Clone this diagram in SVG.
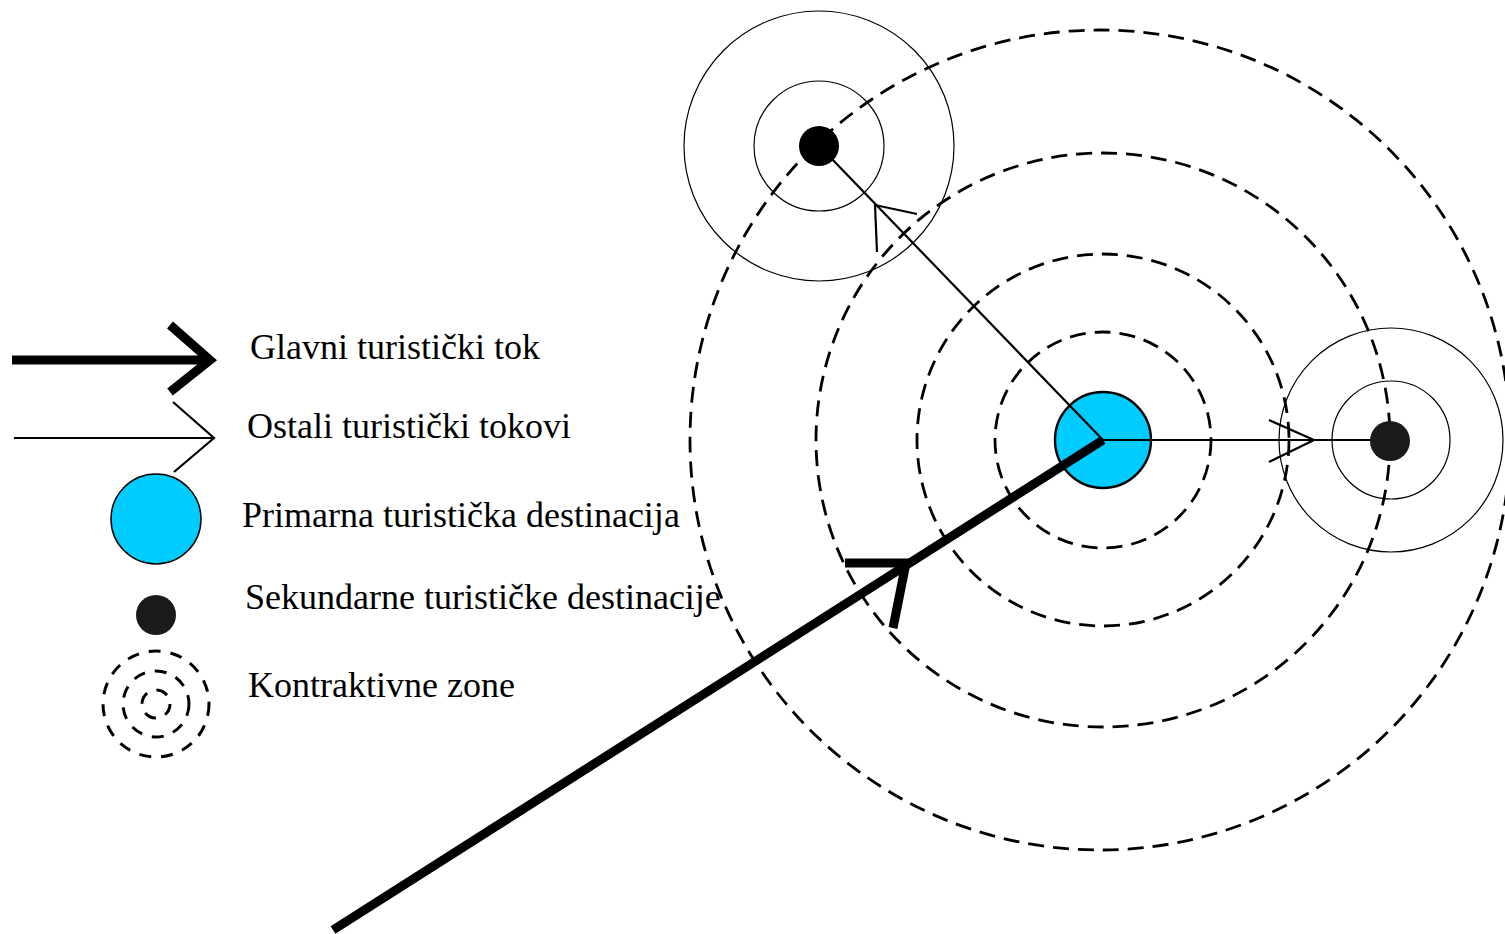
<svg xmlns="http://www.w3.org/2000/svg" width="1505" height="934" viewBox="0 0 1505 934">
<style>
.dash{fill:none;stroke:#000;stroke-width:2.8;stroke-dasharray:16 9}
.ldash{fill:none;stroke:#000;stroke-width:3;stroke-dasharray:12 10}
.ring{fill:none;stroke:#000;stroke-width:1.2}
.thin{fill:none;stroke:#000;stroke-width:2.2;stroke-linecap:butt}
.thick{fill:none;stroke:#000;stroke-width:9;stroke-linecap:butt}
.lbl{font-family:"Liberation Serif","Times New Roman",serif;font-size:36px;fill:#000}
.blue{fill:#00CCFF;stroke:#000;stroke-width:2.4}
</style>
<rect width="1505" height="934" fill="#fff"/>
<g id="zones">
<circle class="dash" cx="1103" cy="440" r="108"/>
<circle class="dash" cx="1103" cy="440" r="186"/>
<circle class="dash" cx="1103" cy="440" r="287"/>
<circle class="dash" cx="1100" cy="440" r="410"/>
</g>
<g id="secondary-tl">
<circle class="ring" cx="819" cy="146" r="135"/>
<circle class="ring" cx="819" cy="146" r="65"/>
</g>
<g id="secondary-r">
<circle class="ring" cx="1391" cy="440" r="112"/>
<circle class="ring" cx="1391" cy="440" r="59"/>
</g>
<g id="primary">
<circle class="blue" cx="1103" cy="440" r="48"/>
</g>
<g id="connectors">
<line class="thin" x1="1103" y1="440" x2="830" y2="157"/>
<polyline class="thin" points="917,214 875,205 877,252"/>
<line class="thin" x1="1103" y1="440" x2="1390" y2="440"/>
<polyline class="thin" points="1269,420 1314,440 1269,462"/>
<line class="thick" x1="333" y1="930" x2="1103" y2="440"/>
<polyline class="thick" points="845,563 906,563 893,628" stroke-linejoin="miter"/>
</g>
<g id="dot-tl">
<circle cx="819" cy="146" r="20" fill="#000"/>
</g>
<g id="dot-r">
<circle cx="1390" cy="441" r="20" fill="#1a1a1a"/>
</g>
<g id="legend">
<g id="legend-main-flow">
<line class="thick" x1="12" y1="360" x2="210" y2="360"/>
<polyline class="thick" points="170,325 210,360 170,392"/>
<text class="lbl" x="250" y="359">Glavni turistički tok</text>
</g>
<g id="legend-other-flows">
<line class="thin" x1="14" y1="438" x2="214" y2="438"/>
<polyline class="thin" points="173,402 214,438 174,472"/>
<text class="lbl" x="247" y="438">Ostali turistički tokovi</text>
</g>
<g id="legend-primary">
<circle cx="156" cy="519" r="45" fill="#00CCFF" stroke="#000" stroke-width="1.5"/>
<text class="lbl" x="242" y="527">Primarna turistička destinacija</text>
</g>
<g id="legend-secondary">
<circle cx="156" cy="615" r="20" fill="#1a1a1a"/>
<text class="lbl" x="245" y="609">Sekundarne turističke destinacije</text>
</g>
<g id="legend-zones">
<circle class="ldash" cx="156" cy="704" r="53"/>
<circle class="ldash" cx="156" cy="704" r="33"/>
<circle class="ldash" cx="156" cy="704" r="14" stroke-dasharray="10 8"/>
<text class="lbl" x="248" y="697">Kontraktivne zone</text>
</g>
</g>
</svg>
